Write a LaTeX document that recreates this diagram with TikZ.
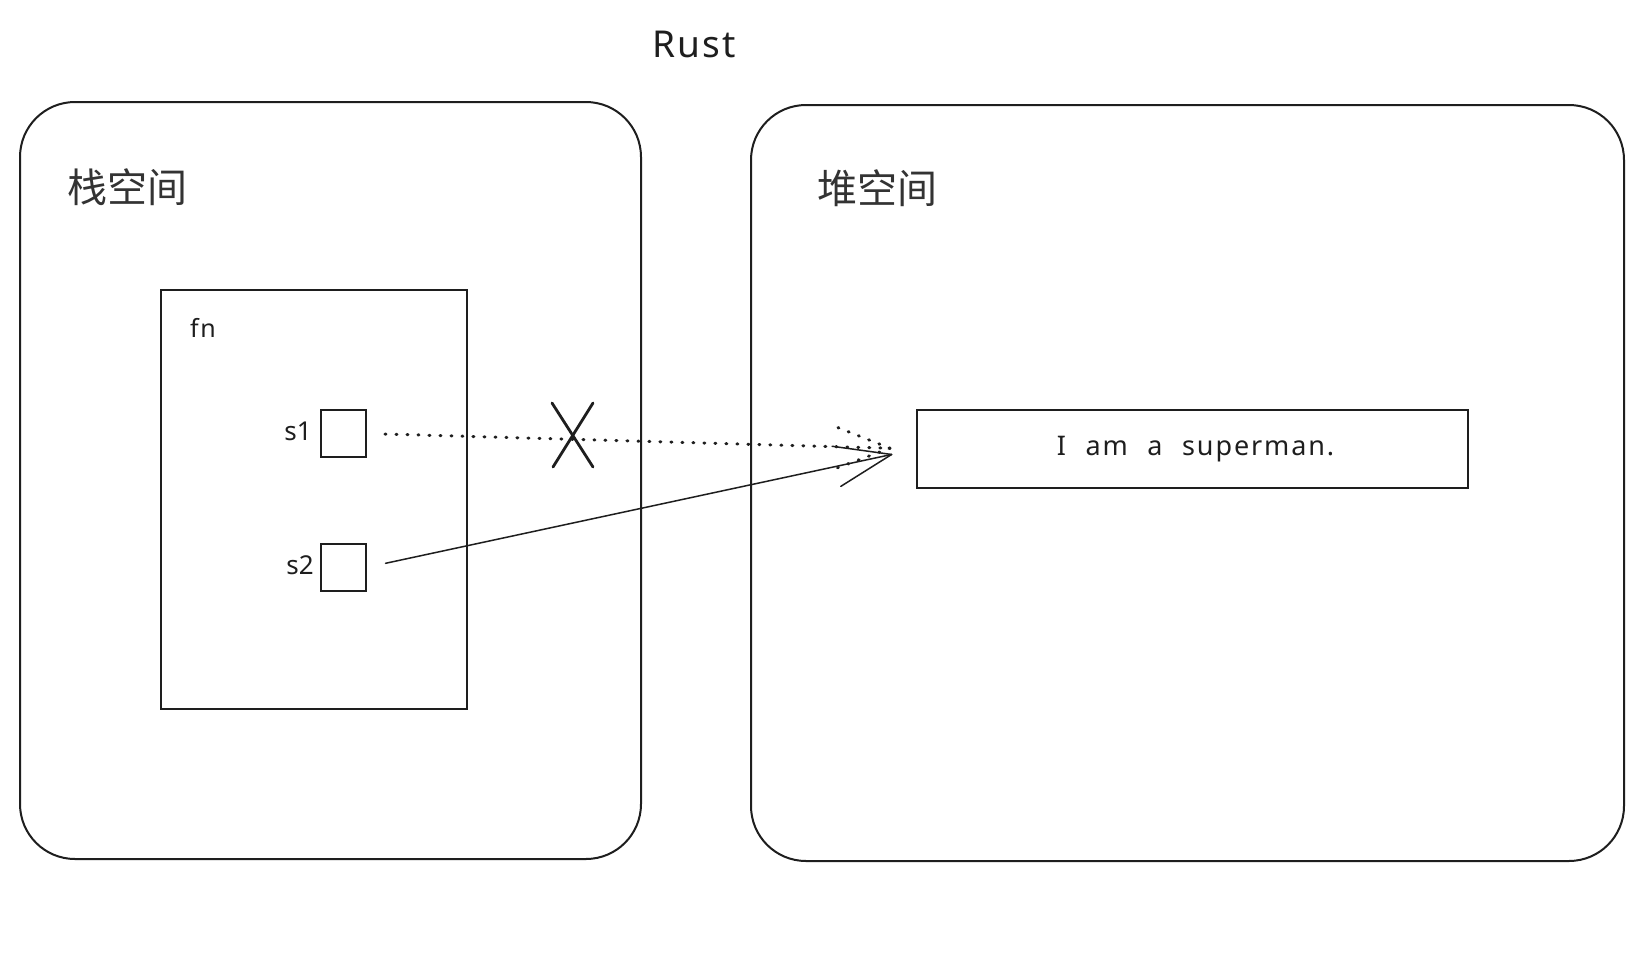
\documentclass[tikz,border=0pt]{standalone}
\usepackage{fontspec}
\setmainfont{Noto Sans}
\newfontfamily\cjk{Noto Sans CJK SC}
\newfontfamily\handwide[LetterSpace=7,WordSpace=2.2]{Noto Sans}
\usetikzlibrary{calc}
\definecolor{ink}{HTML}{1E1E1E}
\definecolor{txtgray}{HTML}{333333}
\begin{document}
\begin{tikzpicture}[x=1pt,y=-1pt,
  region/.style={draw=ink, line width=2pt, rounded corners=55pt, inner sep=0pt, outer sep=0pt, anchor=north west},
  plainbox/.style={draw=ink, line width=1.3pt, inner sep=0pt, outer sep=0pt, anchor=north west},
  title/.style={font=\cjk\fontsize{40}{48}\selectfont, text=txtgray, anchor=west, inner sep=0pt},
  hand/.style={text=ink, inner sep=0pt},
  link/.style={draw=ink, line width=1.5pt, line cap=round},
  dots/.style={draw=ink, line width=3pt, line cap=round, dash pattern=on 1pt off 10pt},
  crossline/.style={draw=ink, line width=2.8pt, line cap=round}]
\useasboundingbox (0,0) rectangle (1644,956);
\fill[white] (0,0) rectangle (1644,956);

% regions
\node[region, minimum width=621pt, minimum height=757pt] (stack) at (20,102) {};
\node[region, minimum width=873pt, minimum height=756pt] (heap) at (751,105) {};
\node[title] (stacklbl) at (67,187) {栈空间};
\node[title] (heaplbl) at (817,188) {堆空间};
\node[hand, font=\fontsize{37}{42}\selectfont\addfontfeatures{LetterSpace=6}] (rust) at (694,44) {Rust};

% fn frame
\node[plainbox, minimum width=306pt, minimum height=419pt] (fn) at (161,290) {};
\node[hand, font=\fontsize{25}{30}\selectfont\addfontfeatures{LetterSpace=6}] (fnlbl) at (203,328) {fn};

% variables
\node[plainbox, minimum width=45pt, minimum height=47pt] (s1) at (321,410) {};
\node[plainbox, minimum width=45pt, minimum height=47pt] (s2) at (321,544) {};
\node[hand, anchor=east, font=\fontsize{26}{30}\selectfont] (s1lbl) at (312,431) {s1};
\node[hand, anchor=east, font=\fontsize{26}{30}\selectfont] (s2lbl) at (314,565) {s2};

% string in heap
\node[plainbox, minimum width=551pt, minimum height=78pt] (str) at (917,410) {};
\node[hand, font=\handwide\fontsize{27}{32}\selectfont] (strlbl) at ($(str.center)+(3,0)$) {I am a superman.};

% connectors
\coordinate (a1) at ($(s1.east)!19pt!(str.west)$);
\coordinate (t1) at ($(str.west)!27pt!(s1.east)$);
\coordinate (a2) at ($(s2.east)!20pt!(str.west)$);
\coordinate (t2) at ($(str.west)!26pt!(s2.east)$);

\draw[dots] (a1) -- (t1);
\draw[dots] (t1) -- ($(t1)!56pt!22:(a1)$);
\draw[dots] (t1) -- ($(t1)!56pt!-20:(a1)$);

\draw[link] (a2) -- (t2);
\draw[link] (t2) -- ($(t2)!60pt!20:(a2)$);
\draw[link] (t2) -- ($(t2)!60pt!-20:(a2)$);

% cross over the dropped s1 link
\coordinate (cross) at (573,435);
\draw[crossline] ($(cross)+(-21,-32)$) -- ($(cross)+(20,32)$);
\draw[crossline] ($(cross)+(20,-32)$) -- ($(cross)+(-20,32)$);
\end{tikzpicture}
\end{document}
